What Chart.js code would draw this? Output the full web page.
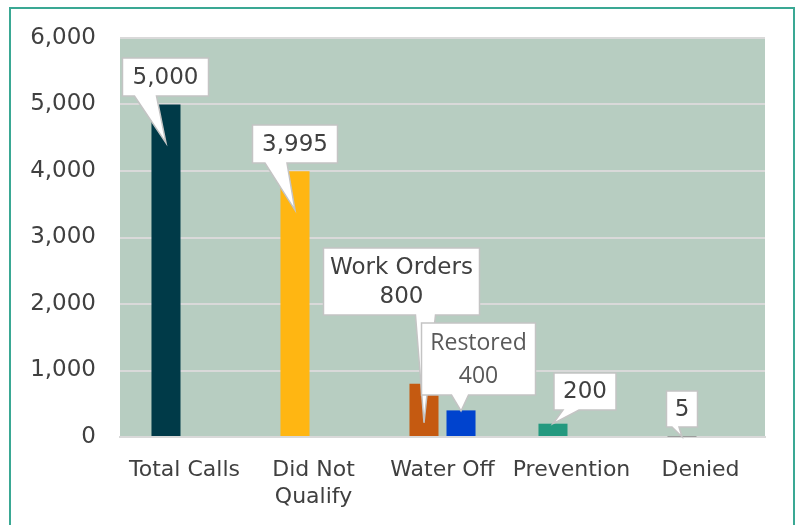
<!DOCTYPE html>
<html><head><meta charset="utf-8">
<script src="https://cdn.jsdelivr.net/npm/chart.js@4/dist/chart.umd.min.js"></script>
<style>html,body{margin:0;padding:0;background:#fff;}#wrap{width:798px;height:525px;}</style>
</head><body><div id="wrap"><canvas id="c" width="798" height="525"></canvas></div>
<script>
const categories = ['Total Calls', ['Did Not', 'Qualify'], 'Water Off', 'Prevention', 'Denied'];
const callValues = [5000, 3995, 800, 200, 5];
const restoredValues = [null, null, 400, null, null];
const calloutPrefixes = ['', '', 'Work Orders', '', ''];
const restoredPrefix = 'Restored';
const yMin = 0, yMax = 6000, yStep = 1000;

const barColors = ['#003a48', '#ffb612', '#c55a11', '#24997f', '#7f7f7f'];
const FONT = '"DejaVu Sans", sans-serif';

// callout layout (relative to bar top-centre): box centre offset, size, tip depth, pointer base
const calloutLayout = [
  {ds:0, i:0, dx:-0.5, dy:-27.5, w:86, h:38, tip:38.5, b0:-31, b1:-9},
  {ds:0, i:1, dx:0, dy:-27.3, w:85, h:38, tip:38.7, b0:-30, b1:-8},
  {ds:0, i:2, dx:-22.5, dy:-102.3, w:156, h:67, tip:39, b0:14, b1:34, lh:29},
  {ds:1, i:2, dx:17.5, dy:-51.4, w:114, h:72, tip:0.6, b0:-27, b1:-10, lh:33, color:'#595959', font:'"Open Sans", sans-serif', size:23},
  {ds:0, i:3, dx:32, dy:-32.2, w:62, h:37, tip:0, b0:-22, b1:-6},
  {ds:0, i:4, dx:0, dy:-27.7, w:31, h:36, tip:0, b0:-10, b1:-3}
];

function labelFor(c) {
  if (c.ds === 1) return [restoredPrefix, restoredValues[c.i].toLocaleString('en-US')];
  const v = callValues[c.i].toLocaleString('en-US');
  return calloutPrefixes[c.i] ? [calloutPrefixes[c.i], v] : [v];
}

const bgPlugin = {
  id: 'bg',
  beforeDraw(chart) {
    const {ctx, chartArea: a} = chart;
    ctx.save();
    ctx.fillStyle = '#fff';
    ctx.fillRect(0, 0, chart.width, chart.height);
    ctx.fillStyle = '#b7cdc1';
    ctx.fillRect(a.left, a.top, a.right - a.left, a.bottom - a.top);
    ctx.strokeStyle = '#3aa894';
    ctx.lineWidth = 2;
    ctx.strokeRect(10, 8, 784, 530);
    ctx.restore();
  }
};

const calloutPlugin = {
  id: 'callouts',
  afterDatasetsDraw(chart) {
    const ctx = chart.ctx;
    calloutLayout.forEach(c => {
      const el = chart.getDatasetMeta(c.ds).data[c.i];
      if (!el) return;
      const bx = el.x, by = el.y;
      const cx = bx + c.dx, cy = by + c.dy;
      const L = cx - c.w / 2, R = cx + c.w / 2, T = cy - c.h / 2, B = cy + c.h / 2;
      const tipX = bx, tipY = by + c.tip;
      ctx.save();
      ctx.beginPath();
      ctx.moveTo(L, T);
      ctx.lineTo(R, T);
      ctx.lineTo(R, B);
      ctx.lineTo(cx + c.b1, B);
      ctx.lineTo(tipX, tipY);
      ctx.lineTo(cx + c.b0, B);
      ctx.lineTo(L, B);
      ctx.closePath();
      ctx.fillStyle = '#ffffff';
      ctx.fill();
      ctx.strokeStyle = '#c4c4c4';
      ctx.lineWidth = 1.5;
      ctx.stroke();
      const lines = labelFor(c);
      const size = c.size || 23;
      ctx.font = size + 'px ' + (c.font || FONT);
      ctx.fillStyle = c.color || '#404040';
      ctx.textAlign = 'center';
      ctx.textBaseline = 'middle';
      const lh = c.lh || 29;
      const start = cy - (lines.length - 1) * lh / 2;
      lines.forEach((t, k) => ctx.fillText(t, cx, start + k * lh + 1));
      ctx.restore();
    });
  }
};

new Chart(document.getElementById('c'), {
  type: 'bar',
  data: {
    labels: categories,
    datasets: [
      {label: 'Calls', data: callValues, backgroundColor: barColors},
      {label: 'Restored', data: restoredValues, backgroundColor: '#0043ce'}
    ]
  },
  options: {
    responsive: false,
    animation: false,
    events: [],
    categoryPercentage: 0.574,
    barPercentage: 0.784,
    layout: {padding: {left: 0, right: 33, top: 38, bottom: 0}},
    plugins: {legend: {display: false}, tooltip: {enabled: false}},
    scales: {
      x: {
        grid: {display: false, drawTicks: false},
        border: {display: true, color: '#d9d9d9', width: 2},
        ticks: {color: '#404040', font: {family: FONT, size: 22, lineHeight: 1.22}, padding: 20, maxRotation: 0, autoSkip: false},
        afterFit(s) { s.height = 88; }
      },
      y: {
        min: yMin, max: yMax,
        grid: {color: '#d9d9d9', lineWidth: 2, drawTicks: false},
        border: {display: false},
        ticks: {stepSize: yStep, color: '#404040', font: {family: FONT, size: 23}, padding: 24,
          callback: v => v.toLocaleString('en-US')},
        afterFit(s) { s.width = 120; }
      }
    }
  },
  plugins: [bgPlugin, calloutPlugin]
});
</script></body></html>
